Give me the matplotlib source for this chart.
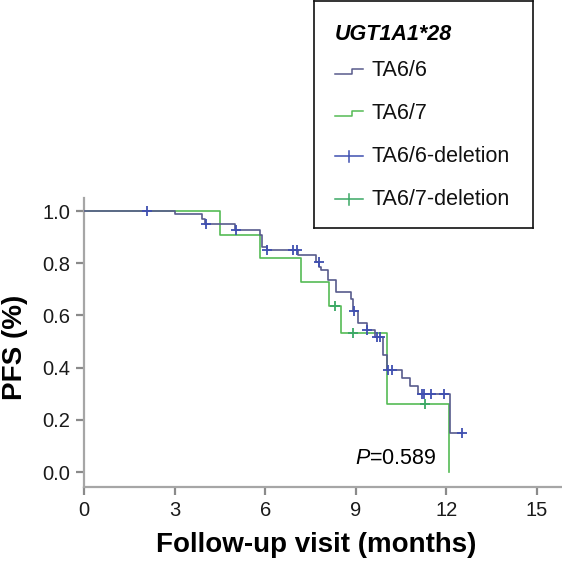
import numpy as np
import matplotlib
matplotlib.use('Agg')
import matplotlib.pyplot as plt

plt.rcParams['font.family'] = ['Liberation Sans', 'DejaVu Sans']
plt.rcParams['mathtext.fontset'] = 'custom'
plt.rcParams['mathtext.it'] = 'Liberation Sans:italic'
plt.rcParams['mathtext.rm'] = 'Liberation Sans'

# ---- data ----
ta66_t = [0, 3.0, 3.9, 4.0, 5.0, 5.83, 5.9, 6.05, 7.1, 7.7, 7.8, 7.85, 8.09, 8.34,
          8.86, 8.92, 9.09, 9.36, 9.65, 9.91, 10.04, 10.52, 10.8, 11.07, 12.12]
ta66_s = [1.0, 0.988, 0.969, 0.949, 0.927, 0.908, 0.863, 0.85, 0.831, 0.806, 0.787,
          0.774, 0.736, 0.691, 0.662, 0.618, 0.57, 0.544, 0.518, 0.448, 0.391, 0.359,
          0.329, 0.298, 0.148]
ta66_end = 12.53
ta66_cens = [2.1, 4.05, 5.05, 6.07, 6.93, 7.04, 7.78, 8.93, 9.36, 9.72, 9.8, 10.08,
             10.19, 11.18, 11.26, 11.51, 11.92, 12.53]

ta67_t = [0, 4.5, 5.83, 7.2, 8.1, 8.5, 10.04, 12.1]
ta67_s = [1.0, 0.908, 0.819, 0.729, 0.636, 0.531, 0.26, 0.0]
ta67_end = 12.1
ta67_cens = [8.3, 8.92, 11.29]

legend_title = 'UGT1A1*28'
legend_labels = ['TA6/6', 'TA6/7', 'TA6/6-deletion', 'TA6/7-deletion']
xticks = [0, 3, 6, 9, 12, 15]
yticks = [0.0, 0.2, 0.4, 0.6, 0.8, 1.0]
p_text = '$P$=0.589'

c66_line = '#585b8c'
c66_cens = '#3f4fb0'
c67_line = '#55bb55'
c67_cens = '#3aa865'

fig = plt.figure(figsize=(5.62, 5.61), dpi=100)
ax = fig.add_axes([84/562, 1-487/561, 477/562, 289/561])


def surv_at(ts, ss, c):
    i = np.searchsorted(ts, c, side='right') - 1
    return np.asarray(ss)[i]


# TA6/6 curve
ax.step(ta66_t + [ta66_end], ta66_s + [ta66_s[-1]], where='post', color=c66_line, lw=1.2, zorder=3)
ax.plot(ta66_cens, surv_at(ta66_t, ta66_s, ta66_cens), ls='none', marker='+',
        ms=7, mew=1.3, color=c66_cens, zorder=4)
# TA6/7 curve
ax.step(ta67_t + [ta67_end], ta67_s + [ta67_s[-1]], where='post', color=c67_line, lw=1.2, zorder=2)
ax.plot(ta67_cens, surv_at(ta67_t, ta67_s, ta67_cens), ls='none', marker='+',
        ms=7, mew=1.3, color=c67_cens, zorder=4)

ax.set_xlim(0, 15.8)
ax.set_ylim(-0.057, 1.05)
ax.set_xticks(xticks)
ax.set_yticks(yticks)
ax.set_yticklabels([f'{v:.1f}' for v in yticks])
for s in ['top', 'right']:
    ax.spines[s].set_visible(False)
for s in ['left', 'bottom']:
    ax.spines[s].set_color('#a6a6a6')
    ax.spines[s].set_linewidth(1.6)
ax.tick_params(axis='both', colors='#8a8a8a', width=1.6, length=6, labelsize=14.5,
               labelcolor='#1a1a1a', pad=4)

ax.set_xlabel('Follow-up visit (months)', fontsize=20, fontweight='bold')
ax.xaxis.set_label_coords(0.486, -0.155)
ax.set_ylabel('PFS (%)', fontsize=20, fontweight='bold')
ax.yaxis.set_label_coords(-0.117, 0.482)

ax.text(8.97, 0.054, p_text, fontsize=15.5, ha='left', va='center')

# ---- legend box (manual) ----
lax = fig.add_axes([314/562, 1-228/561, 219/562, 227/561])
lax.set_xlim(0, 219)
lax.set_ylim(227, 0)
lax.set_xticks([])
lax.set_yticks([])
for s in lax.spines.values():
    s.set_color('#111111')
    s.set_linewidth(1.2)

lax.text(21, 33, legend_title, fontsize=15.5, fontweight='bold', style='italic',
         ha='left', va='center')
rows = [70, 112, 155, 198]
for i, (lab, y) in enumerate(zip(legend_labels, rows)):
    if i < 2:
        col = c66_line if i == 0 else c67_line
        lax.plot([21, 38, 38, 49], [y + 2.5, y + 2.5, y - 2.5, y - 2.5], color=col, lw=1.1)
    else:
        col = c66_cens if i == 2 else c67_cens
        lax.plot([21, 49], [y, y], color=col, lw=1.1)
        lax.plot([35, 35], [y - 5.5, y + 5.5], color=col, lw=1.1)
    lax.text(57, y, lab, fontsize=15.5, ha='left', va='center', color='#111111')

fig.savefig('out.png', dpi=100)
